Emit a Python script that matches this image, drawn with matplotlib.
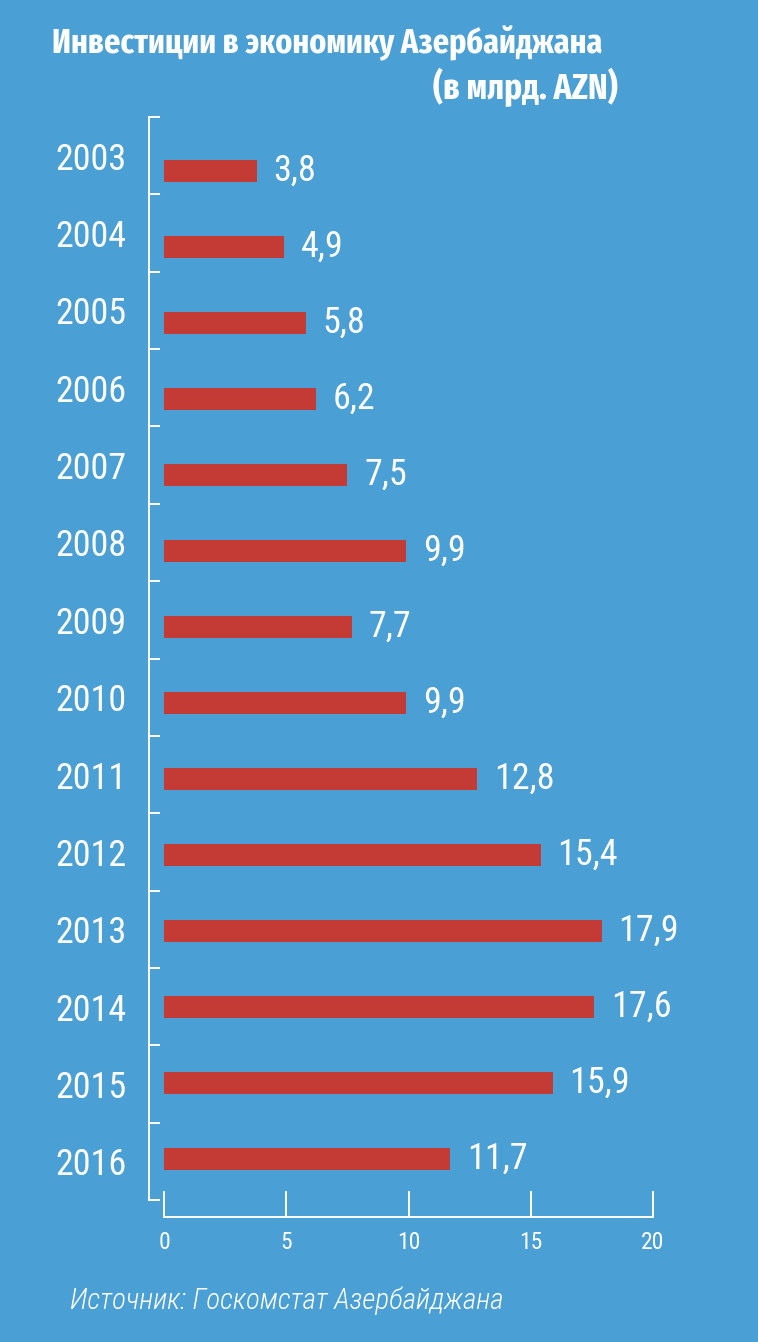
import numpy as np
import matplotlib
matplotlib.use("Agg")
import matplotlib.pyplot as plt

# Данные
years = ["2003", "2004", "2005", "2006", "2007", "2008", "2009",
         "2010", "2011", "2012", "2013", "2014", "2015", "2016"]
values = [3.8, 4.9, 5.8, 6.2, 7.5, 9.9, 7.7, 9.9, 12.8, 15.4, 17.9, 17.6, 15.9, 11.7]
xticks = [0, 5, 10, 15, 20]

title = "Инвестиции в экономику Азербайджана"
subtitle = "(в млрд. AZN)"
source = "Источник: Госкомстат Азербайджана"

bg = "#4aa0d5"
red = "#c43a35"

plt.rcParams["font.family"] = ["Roboto Condensed", "DejaVu Sans"]
plt.rcParams["font.stretch"] = "condensed"
narrow = ["Fira Sans Extra Condensed", "Roboto Condensed", "DejaVu Sans"]

fig = plt.figure(figsize=(7.58, 13.42), dpi=100, facecolor=bg)
ax = fig.add_axes([164 / 758, 125 / 1342, 489 / 758, 1100 / 1342])
ax.set_facecolor(bg)

pos = np.arange(len(years))
ax.barh(pos, values, height=0.29, color=red)
for p, v in zip(pos, values):
    ax.annotate(f"{v:.1f}".replace(".", ","), (v, p), xytext=(12, 0),
                textcoords="offset points", va="center", ha="left",
                color="white", fontsize=26)

ax.set_xlim(0, 20)
ax.set_ylim(13.763, -0.711)

for s in ["top", "right"]:
    ax.spines[s].set_visible(False)

bounds = np.linspace(-0.711, 13.54, len(years) + 1)
mids = (bounds[:-1] + bounds[1:]) / 2

ax.spines["left"].set_position(("outward", 10.8))
ax.spines["left"].set_bounds(bounds[0], bounds[-1])
ax.spines["left"].set_color("white")
ax.spines["left"].set_linewidth(1.4)
ax.set_yticks(bounds)
ax.set_yticklabels([])
ax.set_yticks(mids, minor=True)
ax.set_yticklabels(years, minor=True)
ax.tick_params(axis="y", which="major", direction="in", length=8,
               width=1.4, color="white")
ax.tick_params(axis="y", which="minor", length=0, pad=16,
               labelsize=26, labelcolor="white")

ax.spines["bottom"].set_bounds(0, 20)
ax.spines["bottom"].set_color("white")
ax.spines["bottom"].set_linewidth(1.4)
ax.set_xticks(xticks)
ax.set_xticklabels([str(t) for t in xticks])
ax.tick_params(axis="x", direction="in", length=18.7, width=1.4,
               color="white", labelcolor="white", labelsize=17, pad=10)

fig.text(52 / 758, 1 - 43 / 1342, title, color="white", fontsize=25,
         fontweight="bold", family=narrow, va="center", ha="left")
fig.text(618 / 758, 1 - 87 / 1342, subtitle, color="white", fontsize=26,
         fontweight="bold", family=narrow, va="center", ha="right")
fig.text(70 / 758, 1 - 1301 / 1342, source, color="white", fontsize=21,
         fontstyle="italic", fontweight=300, va="center", ha="left")

fig.savefig("out.png", dpi=100, facecolor=bg)
